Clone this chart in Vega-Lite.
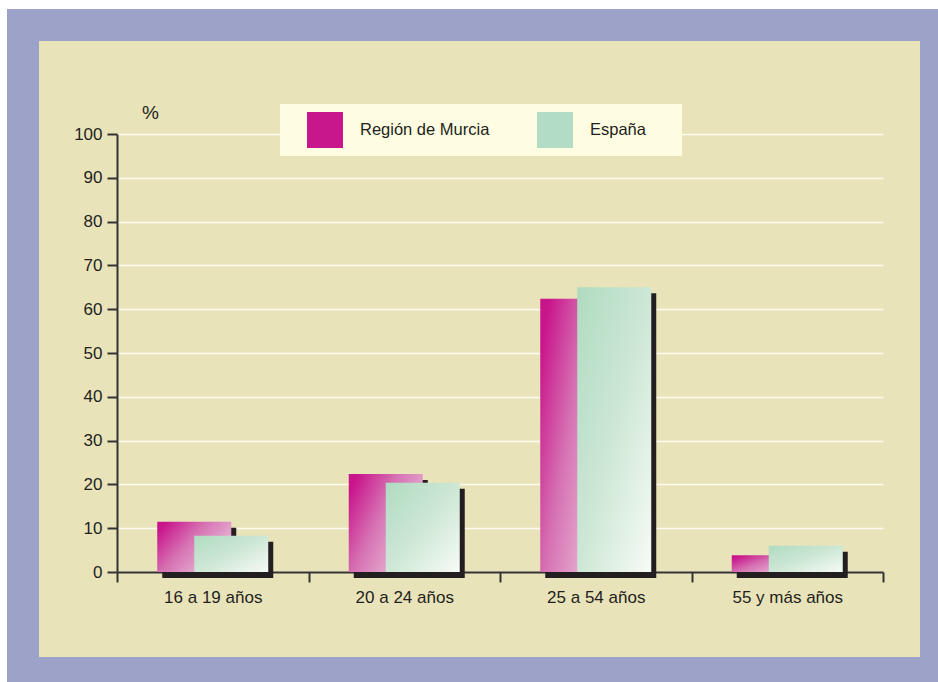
{
  "$schema": "https://vega.github.io/schema/vega-lite/v6.json",
  "autosize": {"type": "none"},
  "width": 913,
  "height": 648,
  "padding": {"left": 23, "top": 25, "right": 2, "bottom": 9},
  "background": "white",
  "config": {
    "view": {"fill": "#e9e3ba", "stroke": "#9da2c8", "strokeWidth": 32},
    "font": "Liberation Sans"
  },
  "data": {
    "values": [
      {"grupo": "16 a 19 años", "serie": "Región de Murcia", "valor": 11.5},
      {"grupo": "20 a 24 años", "serie": "Región de Murcia", "valor": 22.4},
      {"grupo": "25 a 54 años", "serie": "Región de Murcia", "valor": 62.4},
      {"grupo": "55 y más años", "serie": "Región de Murcia", "valor": 3.8},
      {"grupo": "16 a 19 años", "serie": "España", "valor": 8.3},
      {"grupo": "20 a 24 años", "serie": "España", "valor": 20.4},
      {"grupo": "25 a 54 años", "serie": "España", "valor": 65.0},
      {"grupo": "55 y más años", "serie": "España", "valor": 6.0}
    ]
  },
  "encoding": {
    "x": {
      "field": "grupo", "type": "nominal", "sort": null,
      "scale": {"range": [94, 860], "paddingInner": 0, "paddingOuter": 0},
      "axis": {
        "title": null, "offset": -101, "labelAngle": 0, "tickBand": "extent",
        "domainColor": "#333333", "domainWidth": 2, "tickColor": "#333333", "tickWidth": 2, "tickSize": 10,
        "labelFont": "Liberation Sans", "labelFontSize": 17, "labelColor": "#231f20", "labelPadding": 7,
        "grid": false
      }
    },
    "y": {
      "field": "valor", "type": "quantitative",
      "scale": {"domain": [0, 100], "range": [547, 109], "nice": false},
      "axis": {
        "title": "%", "titleAngle": 0, "titleX": 33, "titleY": 87, "titleAlign": "center", "titleBaseline": "middle",
        "titleFont": "Liberation Sans", "titleFontSize": 19, "titleFontWeight": "normal", "titleColor": "#231f20",
        "offset": -94, "values": [0, 10, 20, 30, 40, 50, 60, 70, 80, 90, 100],
        "domainColor": "#333333", "domainWidth": 2, "tickColor": "#333333", "tickWidth": 2, "tickSize": 10,
        "labelFont": "Liberation Sans", "labelFontSize": 17, "labelColor": "#231f20", "labelPadding": 5,
        "grid": true, "gridColor": "#fdfaee", "gridWidth": 1.5
      }
    }
  },
  "layer": [
    {
      "transform": [{"filter": "datum.serie === 'Región de Murcia'"}],
      "mark": {"type": "bar", "width": 74, "xOffset": -13.5, "yOffset": 6, "y2Offset": 6, "fill": "#231f20"}
    },
    {
      "transform": [{"filter": "datum.serie === 'Región de Murcia'"}],
      "mark": {"type": "bar", "width": 74, "xOffset": -18.5,
        "fill": {"gradient": "linear", "x1": 0, "y1": 0.2, "x2": 1, "y2": 0.8,
          "stops": [
            {"offset": 0, "color": "#c8158b"},
            {"offset": 0.4, "color": "#d672b3"},
            {"offset": 0.75, "color": "#e4a8ce"},
            {"offset": 1, "color": "#df98c5"}
          ]}}
    },
    {
      "transform": [{"filter": "datum.serie === 'España'"}],
      "mark": {"type": "bar", "width": 74, "xOffset": 23.5, "yOffset": 6, "y2Offset": 6, "fill": "#231f20"}
    },
    {
      "transform": [{"filter": "datum.serie === 'España'"}],
      "mark": {"type": "bar", "width": 74, "xOffset": 18.5,
        "fill": {"gradient": "linear", "x1": 0, "y1": 0, "x2": 1, "y2": 1,
          "stops": [
            {"offset": 0, "color": "#b0dbc1"},
            {"offset": 0.5, "color": "#cde7d5"},
            {"offset": 1, "color": "#f7fbf6"}
          ]}}
    },
    {
      "mark": {"type": "bar", "width": 1, "opacity": 0},
      "encoding": {
        "color": {
          "field": "serie", "type": "nominal",
          "scale": {"domain": ["Región de Murcia", "España"], "range": ["#c8168c", "#b3dcc4"]},
          "legend": {
            "title": "\u00a0", "titleOrient": "right", "titlePadding": 28, "titleFontSize": 16,
            "orient": "none", "legendX": 257, "legendY": 79, "direction": "horizontal",
            "symbolType": "square", "symbolSize": 1296, "symbolOpacity": 1, "symbolStrokeWidth": 0,
            "symbolOffset": 19,
            "fillColor": "#fffde1", "padding": 8,
            "labelFont": "Liberation Sans", "labelFontSize": 16.5, "labelColor": "#231f20", "labelOffset": 17,
            "columnPadding": 28
          }
        }
      }
    }
  ]
}
